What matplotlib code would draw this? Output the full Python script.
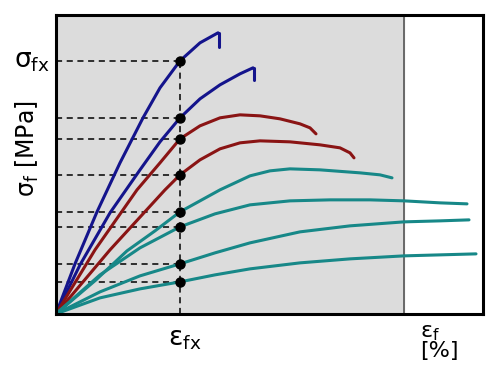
import matplotlib
matplotlib.use('Agg')
import matplotlib.pyplot as plt
import numpy as np

# curve data (strain units, stress units)
blue1_x = [0, 19, 41, 64, 87, 104, 124, 144, 162]
blue1_y = [0, 50, 102, 151, 196, 226, 253, 271, 281]
blue2_x = [0, 24, 54, 84, 104, 124, 144, 164, 184, 197]
blue2_y = [0, 49, 101, 144, 172, 196, 215, 229, 240, 246]
red1_x = [0, 39, 81, 104, 124, 144, 164, 184, 204, 224, 244, 254, 260]
red1_y = [0, 64, 124, 151, 175, 188, 196, 199, 198, 195, 190, 186, 180]
red2_x = [0, 54, 109, 124, 144, 164, 184, 204, 234, 264, 284, 294, 298]
red2_y = [0, 64, 124, 139, 154, 165, 171, 173, 172, 169, 166, 161, 156]
teal1_x = [0, 40, 71, 99, 124, 164, 194, 214, 234, 264, 304, 324, 336]
teal1_y = [0, 34, 63, 83, 102, 124, 138, 143, 145, 144, 141, 139, 136]
teal2_x = [0, 44, 84, 124, 159, 194, 234, 274, 314, 348, 384, 411]
teal2_y = [0, 39, 66, 87, 100, 109, 113, 114, 114, 113, 111, 110]
teal3_x = [0, 44, 84, 124, 159, 194, 244, 294, 348, 384, 413]
teal3_y = [0, 22, 38, 50, 61, 71, 82, 88, 92, 93, 94]
teal4_x = [0, 44, 84, 124, 159, 194, 244, 294, 348, 384, 420]
teal4_y = [0, 16, 25, 32, 39, 45, 51, 55, 58, 59, 60]

# hooks at the end of the blue curves (fracture)
hook1_x = [162, 163, 163]
hook1_y = [281, 281, 267]
hook2_x = [197, 198, 198]
hook2_y = [246, 246, 234]

eps_fx = 124
sig_points = [253, 196, 175, 139, 102, 87, 50, 32]
eps_limit = 348

navy = '#14148c'
darkred = '#8a1414'
teal = '#178888'

fig = plt.figure(figsize=(5, 3.8), dpi=100)
ax = fig.add_axes([0.112, 0.174, 0.854, 0.787])
ax.set_xlim(0, 427)
ax.set_ylim(0, 299)

ax.axvspan(0, eps_limit, color='#dcdcdc', zorder=0)
ax.axvline(eps_limit, color='#555555', lw=1.2, zorder=1)

for s in sig_points:
    ax.plot([0, eps_fx], [s, s], color='black', lw=1.1, ls=(0, (4, 3)), zorder=2)
ax.plot([eps_fx, eps_fx], [0, max(sig_points)], color='black', lw=1.1, ls=(0, (4, 3)), zorder=2)

kw = dict(lw=2.2, solid_capstyle='round', solid_joinstyle='round', zorder=3)
ax.plot(blue1_x, blue1_y, color=navy, **kw)
ax.plot(hook1_x, hook1_y, color=navy, **kw)
ax.plot(blue2_x, blue2_y, color=navy, **kw)
ax.plot(hook2_x, hook2_y, color=navy, **kw)
ax.plot(red1_x, red1_y, color=darkred, **kw)
ax.plot(red2_x, red2_y, color=darkred, **kw)
for tx, ty in [(teal1_x, teal1_y), (teal2_x, teal2_y), (teal3_x, teal3_y), (teal4_x, teal4_y)]:
    ax.plot(tx, ty, color=teal, **kw)

ax.plot([eps_fx] * len(sig_points), sig_points, 'o', color='black', ms=6.5, zorder=4)

ax.set_xticks([])
ax.set_yticks([])
for sp in ax.spines.values():
    sp.set_linewidth(2.2)
    sp.set_color('black')
    sp.set_zorder(5)

ax.text(-6, 253, r'σ$_{\rm fx}$', fontsize=19, ha='right', va='center', clip_on=False)
ax.text(eps_fx + 5, -12, r'ε$_{\rm fx}$', fontsize=19, ha='center', va='top', clip_on=False)
ax.text(eps_limit + 16, -9, 'ε$_{\\rm f}$\n[%]', fontsize=16, ha='left', va='top',
        linespacing=0.9, clip_on=False)
fig.text(0.055, 0.61, r'σ$_{\rm f}$ [MPa]', fontsize=17, rotation=90, ha='center', va='center')

fig.savefig('out.png', dpi=100)
